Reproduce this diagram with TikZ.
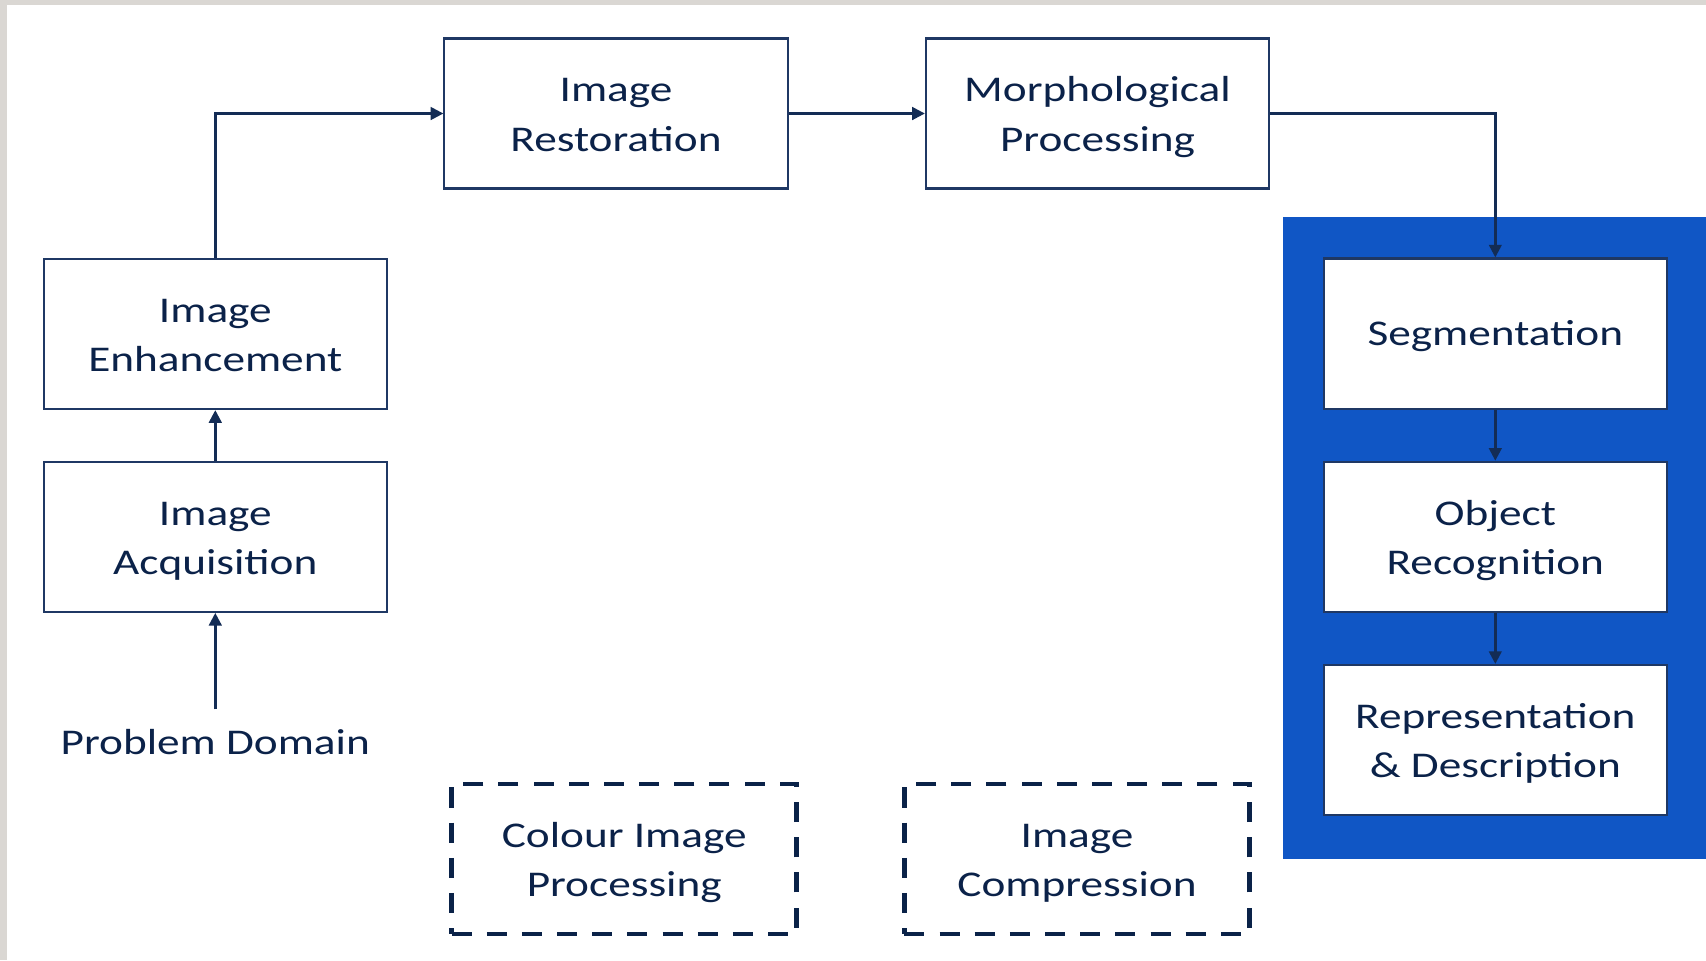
\documentclass[tikz,border=0pt]{standalone}
\usepackage{fontspec}
\setmainfont{Carlito}[FakeStretch=1.25]
\usetikzlibrary{arrows.meta}
\definecolor{txtc}{HTML}{0B2249}
\definecolor{linec}{HTML}{1F3864}
\definecolor{dashc}{HTML}{0A2248}
\definecolor{arrc}{HTML}{132C55}
\definecolor{bluec}{HTML}{1056C5}
\definecolor{greyc}{HTML}{DAD7D3}
\begin{document}
\begin{tikzpicture}[x=0.01cm,y=-0.01cm,
  box/.style={draw=linec, line width=0.6pt, fill=white, minimum width=3.43cm, minimum height=1.5cm,
    inner sep=0pt, align=center, text=txtc, font=\fontsize{10.3}{14}\selectfont,
    text height=21.45pt, text depth=0pt},
  onel/.style={text height=6.9pt, text depth=0pt},
  dbox/.style={box, draw=dashc, line width=1.35pt, dash pattern=on 5.7pt off 4.3pt, minimum width=3.45cm},
  lbl/.style={inner sep=0pt, text=txtc, font=\fontsize{10.3}{14}\selectfont},
  arr/.style={draw=arrc, line width=0.7pt, -{Triangle[length=3.6pt,width=3.6pt]}}]
\useasboundingbox (0,0) rectangle (1706,960);
% page background
\fill[greyc] (0,0) rectangle (1706,960);
\fill[white] (7.3,4.7) rectangle (1706,960);
% blue group
\fill[bluec] (1282.5,216.5) rectangle (1706,859);
% nodes
\node[box] (enh) at (215.3,334) {Image\\Enhancement};
\node[box] (acq) at (215.3,536.8) {Image\\Acquisition};
\node[box] (rest) at (616,113.5) {Image\\Restoration};
\node[box] (morph) at (1097.5,113.5) {Morphological\\Processing};
\node[box, onel] (seg) at (1495.3,333.5) {Segmentation};
\node[box] (obj) at (1495.3,536.8) {Object\\Recognition};
\node[box] (rep) at (1495.3,740) {Representation\\\&~Description};
\node[dbox] (cip) at (624.2,859) {Colour Image\\Processing};
\node[dbox] (ic) at (1077,859) {Image\\Compression};
\node[lbl, outer ysep=0.2cm] (pd) at (215.3,742) {Problem Domain};
% connectors
\draw[arr] (pd.north) -- (acq.south);
\draw[arr] (acq.north) -- (enh.south);
\draw[arr] (enh.north) |- (rest.west);
\draw[arr] (rest.east) -- (morph.west);
\draw[arr] (morph.east) -| (seg.north);
\draw[arr] (seg.south) -- (obj.north);
\draw[arr] (obj.south) -- (rep.north);
\end{tikzpicture}
\end{document}
